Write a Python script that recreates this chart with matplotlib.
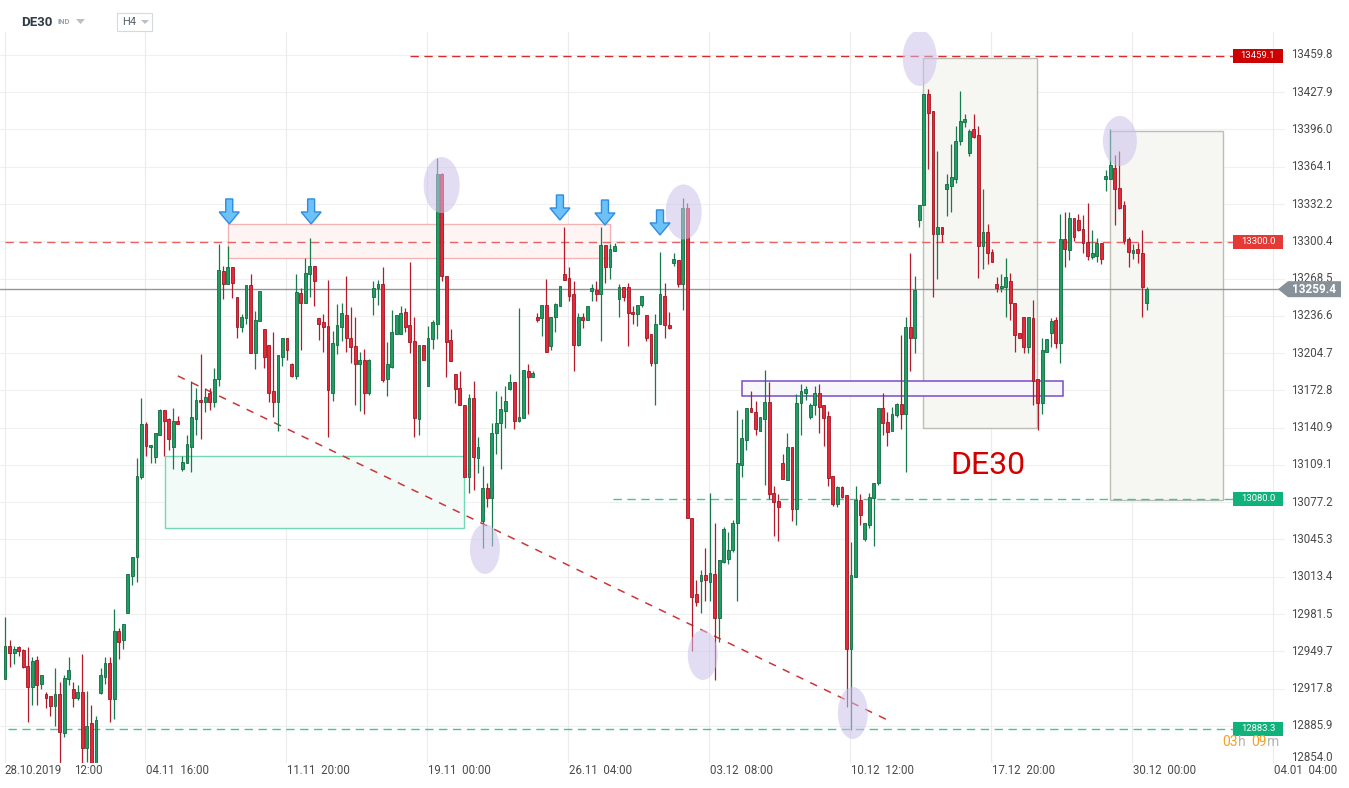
import matplotlib
matplotlib.use("Agg")
import matplotlib.pyplot as plt
from matplotlib.patches import Rectangle, Ellipse, Polygon
import numpy as np

plt.rcParams['font.family'] = ['Roboto', 'DejaVu Sans']

# ---------------- data (H4 candles, DE30) ----------------
opens = [12926, 12954, 12948, 12953, 12951, 12937, 12919, 12942, 12922, 12913,
         12911, 12903, 12913, 12880, 12926, 12917, 12910, 12915, 12867, 12888,
         12852, 12914, 12928, 12940, 12909, 12967, 12959, 12982, 13014, 13030,
         13099, 13144, 13124, 13116, 13135, 13156, 13148, 13124, 13147, 13106,
         13111, 13124, 13148, 13165, 13163, 13171, 13163, 13183, 13275, 13264,
         13278, 13253, 13227, 13235, 13263, 13205, 13232, 13225, 13212, 13172,
         13163, 13201, 13218, 13195, 13185, 13256, 13248, 13272, 13279, 13235,
         13231, 13228, 13171, 13212, 13227, 13237, 13218, 13211, 13195, 13199,
         13171, 13253, 13260, 13264, 13183, 13193, 13221, 13221, 13240, 13229,
         13215, 13148, 13212, 13177, 13217, 13230, 13358, 13271, 13216, 13187,
         13175, 13160, 13099, 13166, 13115, 13061, 13089, 13081, 13136, 13145,
         13155, 13174, 13180, 13147, 13149, 13189, 13184, 13236, 13235, 13246,
         13211, 13236, 13245, 13272, 13269, 13255, 13212, 13236, 13233, 13258,
         13259, 13255, 13297, 13278, 13292, 13251, 13261, 13261, 13240, 13238,
         13246, 13237, 13221, 13196, 13230, 13254, 13229, 13282, 13284, 13264,
         13329, 13064, 12999, 13010, 13015, 13009, 13016, 12978, 13026, 13029,
         13036, 13059, 13109, 13130, 13158, 13154, 13138, 13148, 13163, 13085,
         13078, 13111, 13096, 13124, 13071, 13162, 13171, 13150, 13160, 13171,
         13160, 13151, 13100, 13076, 13090, 13083, 12952, 13013, 13079, 13046,
         13058, 13081, 13094, 13158, 13146, 13138, 13152, 13161, 13153, 13227,
         13218, 13319, 13331, 13426, 13412, 13307, 13313, 13345, 13348, 13354,
         13386, 13402, 13376, 13396, 13391, 13296, 13308, 13291, 13264, 13260,
         13261, 13266, 13248, 13222, 13236, 13210, 13235, 13183, 13162, 13206,
         13222, 13233, 13213, 13302, 13293, 13320, 13319, 13311, 13300, 13287,
         13288, 13299, 13354, 13354, 13363, 13346, 13331, 13302, 13290, 13294,
         13290, 13248]
highs = [12979, 12959, 12954, 12954, 12952, 12953, 12945, 12946, 12929, 12915,
         12911, 12935, 12923, 12929, 12945, 12923, 12921, 12947, 12916, 12904,
         12894, 12935, 12945, 12945, 12986, 12970, 12973, 13016, 13030, 13115,
         13166, 13146, 13126, 13136, 13157, 13156, 13149, 13158, 13151, 13117,
         13135, 13181, 13175, 13204, 13175, 13175, 13192, 13298, 13279, 13296,
         13278, 13253, 13238, 13263, 13272, 13241, 13258, 13225, 13212, 13223,
         13203, 13218, 13218, 13196, 13272, 13260, 13286, 13303, 13279, 13235,
         13238, 13267, 13224, 13247, 13248, 13271, 13244, 13236, 13206, 13208,
         13200, 13266, 13267, 13278, 13214, 13242, 13237, 13245, 13243, 13283,
         13236, 13212, 13212, 13228, 13233, 13372, 13359, 13271, 13225, 13187,
         13189, 13160, 13170, 13181, 13133, 13108, 13094, 13145, 13172, 13168,
         13177, 13187, 13180, 13243, 13190, 13195, 13189, 13239, 13246, 13268,
         13236, 13248, 13262, 13313, 13278, 13266, 13239, 13239, 13245, 13264,
         13266, 13313, 13297, 13298, 13299, 13264, 13261, 13265, 13245, 13246,
         13254, 13237, 13221, 13238, 13291, 13265, 13240, 13290, 13284, 13337,
         13333, 13064, 13011, 13019, 13038, 13085, 13059, 13028, 13056, 13052,
         13062, 13156, 13148, 13158, 13172, 13164, 13150, 13190, 13180, 13091,
         13084, 13118, 13136, 13124, 13170, 13178, 13177, 13162, 13177, 13178,
         13160, 13155, 13100, 13091, 13091, 13083, 13043, 13091, 13084, 13059,
         13085, 13094, 13158, 13171, 13154, 13159, 13162, 13220, 13236, 13290,
         13271, 13331, 13426, 13431, 13412, 13378, 13313, 13358, 13384, 13399,
         13429, 13409, 13396, 13409, 13399, 13345, 13315, 13294, 13270, 13272,
         13286, 13273, 13248, 13222, 13236, 13236, 13250, 13183, 13218, 13217,
         13235, 13236, 13324, 13325, 13325, 13320, 13324, 13323, 13333, 13310,
         13303, 13299, 13361, 13396, 13374, 13378, 13335, 13304, 13298, 13299,
         13310, 13261]
lows = [12926, 12936, 12939, 12946, 12935, 12889, 12904, 12904, 12917, 12901,
        12894, 12886, 12854, 12876, 12921, 12902, 12908, 12854, 12855, 12848,
        12848, 12913, 12922, 12889, 12892, 12943, 12952, 12982, 13006, 13009,
        13097, 13117, 13111, 13111, 13135, 13117, 13122, 13106, 13144, 13104,
        13111, 13103, 13135, 13131, 13154, 13156, 13159, 13177, 13251, 13264,
        13252, 13218, 13223, 13230, 13205, 13191, 13232, 13192, 13163, 13150,
        13138, 13194, 13199, 13184, 13183, 13207, 13248, 13253, 13245, 13216,
        13206, 13133, 13164, 13204, 13215, 13206, 13196, 13160, 13155, 13153,
        13169, 13237, 13246, 13180, 13168, 13192, 13221, 13221, 13223, 13205,
        13133, 13135, 13199, 13177, 13208, 13217, 13266, 13184, 13198, 13162,
        13160, 13099, 13085, 13088, 13102, 13038, 13073, 13040, 13118, 13106,
        13141, 13173, 13140, 13146, 13149, 13153, 13184, 13231, 13219, 13206,
        13207, 13223, 13245, 13267, 13249, 13189, 13211, 13226, 13233, 13249,
        13249, 13215, 13265, 13268, 13292, 13236, 13249, 13211, 13230, 13228,
        13244, 13215, 13194, 13160, 13230, 13218, 13225, 13279, 13261, 13242,
        13064, 12950, 12988, 12982, 12993, 12993, 12925, 12958, 13025, 13024,
        13035, 12993, 13099, 13122, 13154, 13135, 13138, 13092, 13080, 13048,
        13044, 13097, 13096, 13061, 13058, 13135, 13165, 13148, 13152, 13136,
        13125, 13091, 13074, 13073, 13081, 12902, 12882, 13013, 13058, 13044,
        13055, 13040, 13092, 13135, 13125, 13138, 13150, 13140, 13103, 13189,
        13205, 13313, 13331, 13362, 13253, 13268, 13300, 13322, 13325, 13350,
        13383, 13398, 13373, 13389, 13269, 13277, 13281, 13283, 13257, 13257,
        13236, 13233, 13206, 13218, 13205, 13205, 13160, 13139, 13153, 13206,
        13210, 13209, 13196, 13278, 13284, 13301, 13309, 13290, 13284, 13285,
        13283, 13281, 13343, 13354, 13314, 13328, 13298, 13278, 13285, 13282,
        13236, 13242]
closes = [12954, 12948, 12952, 12950, 12936, 12919, 12941, 12921, 12929, 12910,
          12903, 12913, 12881, 12927, 12934, 12910, 12915, 12867, 12886, 12852,
          12891, 12929, 12940, 12909, 12967, 12958, 12973, 13016, 13030, 13100,
          13144, 13125, 13126, 13136, 13156, 13147, 13131, 13147, 13144, 13112,
          13127, 13150, 13165, 13163, 13167, 13163, 13183, 13276, 13264, 13278,
          13265, 13227, 13236, 13263, 13205, 13233, 13258, 13201, 13171, 13163,
          13203, 13218, 13207, 13185, 13257, 13248, 13273, 13279, 13266, 13230,
          13227, 13173, 13213, 13229, 13239, 13218, 13210, 13195, 13199, 13171,
          13199, 13260, 13264, 13182, 13195, 13223, 13237, 13239, 13227, 13214,
          13149, 13212, 13199, 13218, 13231, 13358, 13271, 13214, 13198, 13174,
          13160, 13099, 13166, 13116, 13124, 13089, 13081, 13136, 13145, 13157,
          13164, 13180, 13147, 13150, 13190, 13184, 13188, 13233, 13246, 13206,
          13236, 13247, 13262, 13267, 13254, 13212, 13236, 13233, 13245, 13260,
          13255, 13297, 13278, 13294, 13296, 13261, 13253, 13239, 13238, 13246,
          13254, 13218, 13196, 13230, 13255, 13229, 13226, 13285, 13264, 13329,
          13064, 12996, 12992, 13015, 13011, 13017, 12978, 13028, 13054, 13036,
          13059, 13111, 13132, 13158, 13154, 13140, 13150, 13163, 13084, 13077,
          13073, 13097, 13124, 13071, 13162, 13172, 13174, 13160, 13171, 13159,
          13149, 13098, 13076, 13090, 13082, 12952, 13015, 13079, 13066, 13059,
          13082, 13094, 13158, 13145, 13137, 13153, 13161, 13153, 13227, 13218,
          13259, 13331, 13426, 13410, 13307, 13313, 13307, 13349, 13355, 13386,
          13403, 13405, 13395, 13390, 13296, 13308, 13290, 13283, 13260, 13262,
          13270, 13248, 13220, 13218, 13210, 13236, 13181, 13162, 13207, 13217,
          13232, 13213, 13302, 13294, 13320, 13304, 13310, 13299, 13288, 13290,
          13299, 13285, 13356, 13366, 13345, 13329, 13301, 13291, 13293, 13290,
          13261, 13259.4]

y_ticks = [13459.8, 13427.9, 13396.0, 13364.1, 13332.2, 13300.4, 13268.5,
           13236.6, 13204.7, 13172.8, 13140.9, 13109.1, 13077.2, 13045.3,
           13013.4, 12981.5, 12949.7, 12917.8, 12885.9, 12854.0]
x_labels = ["28.10.2019", "12:00", "04.11  16:00", "11.11  20:00", "19.11  00:00",
            "26.11  04:00", "03.12  08:00", "10.12  12:00", "17.12  20:00",
            "30.12  00:00", "04.01  04:00"]
x_label_pos = [-0.1, 15.2, 31.1, 62.1, 93.0, 124.0, 155.0, 185.9, 216.9, 247.9, 278.9]
x_grid_pos = [0.0, 30.8, 61.8, 92.7, 123.7, 154.7, 185.7, 216.7, 247.7, 278.7]

level_values = [13459.1, 13300.0, 13080.0, 12883.3]
level_starts = [89.0, 0.0, 133.7, 0.6]
level_line_colors = ['#d42c2c', '#e66363', '#3ec79a', '#3ec79a']
level_box_colors = ['#cc0000', '#e53935', '#10b27b', '#10b27b']
last_price = 13259.4

# ---------------- figure ----------------
W, H = 1349, 788
fig = plt.figure(figsize=(W / 100, H / 100), dpi=100)
fig.patch.set_facecolor('white')
ax_left_px, ax_right_px, ax_top_px, ax_bot_px = 0, 1285, 32, 763
ax = fig.add_axes([ax_left_px / W, 1 - ax_bot_px / H,
                   (ax_right_px - ax_left_px) / W, (ax_bot_px - ax_top_px) / H])
ax.set_xlim(-1.1, 281.4)
ax.set_ylim(12854.1, 13479.4)
for s in ax.spines.values():
    s.set_visible(False)
ax.set_xticks([])
ax.set_yticks([])

# pixel -> data unit helpers (for annotation sizes)
PX_X = (281.4 + 1.1) / (ax_right_px - ax_left_px)
PX_Y = (13479.4 - 12854.1) / (ax_bot_px - ax_top_px)

# grid
for v in y_ticks:
    ax.axhline(v, color='#f0f0f0', lw=0.8, zorder=0)
for g in x_grid_pos:
    ax.axvline(g, color='#ececec', lw=0.8, zorder=0)

# annotation boxes (under candles)
ax.add_patch(Rectangle((201.8, 13140.7), 25.0, 316.5, facecolor='#f6f6f3',
                       edgecolor='#bdbdb2', lw=1.0, zorder=1))
ax.add_patch(Rectangle((242.9, 13079.1), 24.8, 315.6, facecolor='#f6f6f3',
                       edgecolor='#bdbdb2', lw=1.0, zorder=1))
ax.add_patch(Rectangle((49.0, 13286.1), 84.0, 29.1, facecolor='#fff4f4',
                       edgecolor='#f6b3b3', lw=1.0, zorder=1))
ax.add_patch(Rectangle((35.2, 13055.2), 65.7, 61.5, facecolor='#f3fbf8',
                       edgecolor='#74d8b4', lw=1.0, zorder=1))
ax.add_patch(Rectangle((162.0, 13168.1), 70.7, 12.8, facecolor='#f7f7fb',
                       edgecolor='#7a4cc8', lw=1.1, zorder=1.2))

# current price line
ax.axhline(last_price, color='#8e979c', lw=1.0, zorder=2)

# level lines
for v, st, c in zip(level_values, level_starts, level_line_colors):
    ax.hlines(v, st, 270.0, colors=c, lw=1.0, linestyles=(0, (6, 4)), zorder=2.2)

# diagonal trendline
ax.plot([38.0, 194.9], [13185.2, 12889.2], color='#cc3535', lw=1.1,
        ls=(0, (5, 5)), zorder=2.3)

# candles
o = np.array(opens, float); h = np.array(highs, float)
l = np.array(lows, float); c = np.array(closes, float)
idx = np.arange(len(o))
up = c >= o
dn = ~up
G_FILL, G_EDGE, G_WICK = '#1f9d62', '#0e6b3f', '#177a4a'
R_FILL, R_EDGE, R_WICK = '#e5293b', '#a3141f', '#b31b2b'
ax.vlines(idx[up], l[up], h[up], color=G_WICK, lw=0.9, zorder=3)
ax.vlines(idx[dn], l[dn], h[dn], color=R_WICK, lw=0.9, zorder=3)
ax.bar(idx[up], np.maximum(c[up] - o[up], 1.2), bottom=o[up], width=0.62,
       color=G_FILL, edgecolor=G_EDGE, linewidth=0.6, zorder=4)
ax.bar(idx[dn], np.maximum(o[dn] - c[dn], 1.2), bottom=c[dn], width=0.62,
       color=R_FILL, edgecolor=R_EDGE, linewidth=0.6, zorder=4)

# highlight ellipses
ell = [(201.1, 13457.2, 34, 56), (96.0, 13348.5, 36, 56), (149.2, 13325.5, 36, 55),
       (105.5, 13037.2, 30, 50), (153.4, 12946.5, 30, 50), (186.4, 12896.9, 30, 52),
       (245.1, 13386.2, 34, 50)]
for ex, ey, ew, eh in ell:
    ax.add_patch(Ellipse((ex, ey), ew * PX_X, eh * PX_Y,
                         facecolor=(0.80, 0.76, 0.92, 0.55), edgecolor='none', zorder=6))

# blue arrows
arrow_shape = [(0, 0), (-10, -12), (-3.5, -12), (-3.5, -25), (3.5, -25), (3.5, -12), (10, -12)]
arrow_tips = [(49.3, 13315.2), (67.3, 13315.2), (122.0, 13318.6), (131.9, 13314.3), (144.0, 13305.8)]
for tx, ty in arrow_tips:
    pts = [(tx + dx * PX_X, ty - dy * PX_Y) for dx, dy in arrow_shape]
    ax.add_patch(Polygon(pts, closed=True, facecolor='#6cc1f6', edgecolor='#2d8ce6',
                         lw=1.0, zorder=7))

# DE30 label on chart
ax.text(216.2, 13109.0, 'DE30', color='#d30000', fontsize=23, ha='center',
        va='center', zorder=8)

# right axis labels
ytr = ax.get_yaxis_transform()
xa = lambda px: px / (ax_right_px - ax_left_px)
for v in y_ticks:
    yy = v if v > 12860 else 12859.0
    ax.text(xa(1291), yy, f'{v:.1f}', transform=ytr, ha='left', va='center',
            fontsize=8.3, color='#4a4a4a', clip_on=False, zorder=9)

# level label boxes
bh = 14 * PX_Y
for v, bc in zip(level_values, level_box_colors):
    ax.add_patch(Rectangle((xa(1233), v - bh / 2), xa(50), bh, transform=ytr,
                           facecolor=bc, edgecolor='none', clip_on=False, zorder=10))
    ax.text(xa(1258), v, f'{v:.1f}', transform=ytr, ha='center', va='center',
            fontsize=6.8, color='white', clip_on=False, zorder=11)

# current price tag
ph = 8 * PX_Y
tag = [(xa(1278), last_price), (xa(1288), last_price + ph), (xa(1341), last_price + ph),
       (xa(1341), last_price - ph), (xa(1288), last_price - ph)]
ax.add_patch(Polygon(tag, closed=True, transform=ytr, facecolor='#87919a',
                     edgecolor='none', clip_on=False, zorder=12))
ax.text(xa(1314), last_price, f'{last_price:.1f}', transform=ytr, ha='center',
        va='center', fontsize=8.5, color='white', fontweight='bold',
        clip_on=False, zorder=13)

# x axis labels
xtr = ax.get_xaxis_transform()
ylab = -(770 - ax_bot_px) / (ax_bot_px - ax_top_px)
for p, t in zip(x_label_pos, x_labels):
    ax.text(p, ylab, t, transform=xtr, ha='left', va='center', fontsize=8.3,
            color='#4a4a4a', clip_on=False)

# countdown text
fx = lambda px: px / W
fy = lambda py: 1 - py / H
fig.text(fx(1222), fy(742), '03', color='#f5a020', fontsize=10, va='center', ha='left')
fig.text(fx(1238), fy(742), 'h', color='#b5b5b5', fontsize=10, va='center', ha='left')
fig.text(fx(1251), fy(742), '09', color='#f5a020', fontsize=10, va='center', ha='left')
fig.text(fx(1267), fy(742), 'm', color='#b5b5b5', fontsize=10, va='center', ha='left')

# header
fig.text(fx(21), fy(22), 'DE30', color='#2f3b45', fontsize=9.5, fontweight='bold',
         va='center', ha='left')
fig.text(fx(57), fy(22), 'IND', color='#9aa4ad', fontsize=5.5, fontweight='bold',
         va='center', ha='left')
fig.patches.append(Polygon([(fx(76), fy(19)), (fx(85), fy(19)), (fx(80.5), fy(24))],
                           closed=True, transform=fig.transFigure, facecolor='#b8c0c8',
                           edgecolor='none'))
fig.patches.append(Rectangle((fx(117), fy(31)), fx(35), 18 / H, transform=fig.transFigure,
                             facecolor='white', edgecolor='#d5dadf', lw=0.8))
fig.text(fx(122), fy(22), 'H4', color='#56616b', fontsize=8, va='center', ha='left')
fig.patches.append(Polygon([(fx(141), fy(20)), (fx(149), fy(20)), (fx(145), fy(24))],
                           closed=True, transform=fig.transFigure, facecolor='#b8c0c8',
                           edgecolor='none'))

fig.savefig('out.png', dpi=100, facecolor='white')
